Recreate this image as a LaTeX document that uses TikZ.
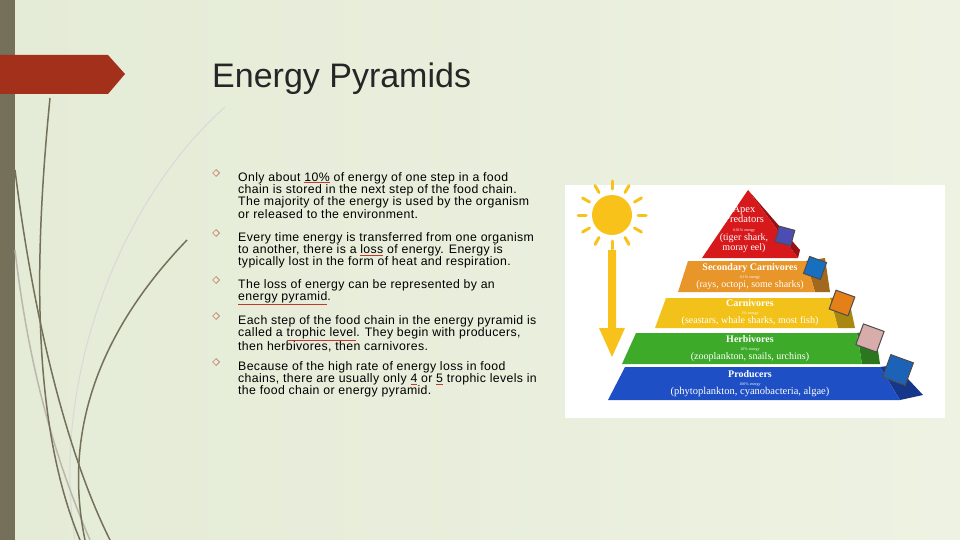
\documentclass[tikz,border=0pt]{standalone}
\usepackage{fontspec}
\setmainfont{Liberation Sans}[LetterSpace=3]
\newfontfamily\pyrfont{Liberation Serif}
\usetikzlibrary{calc}
\definecolor{bgleft}{HTML}{E4EBD6}
\definecolor{bgright}{HTML}{EEF2E2}
\definecolor{barbrown}{HTML}{75705A}
\definecolor{bannerred}{HTML}{A3301A}
\definecolor{ulred}{HTML}{C0392B}
\definecolor{apexred}{HTML}{D7191C}
\definecolor{secorange}{HTML}{E8952A}
\definecolor{carnyellow}{HTML}{F2C21A}
\definecolor{herbgreen}{HTML}{3DAA2A}
\definecolor{prodblue}{HTML}{1F4FC4}
\definecolor{sunyellow}{HTML}{F9C21B}
\newcommand{\redul}[1]{{\color{ulred}\underline{\color{black}#1}}}
\tikzset{
  bullettext/.style={anchor=north west, font=\fontsize{12.3}{12.3}\selectfont, align=left, inner sep=0pt},
  bulletmark/.style={draw=bannerred!80, diamond, inner sep=0pt, minimum size=7pt, line width=0.5pt},
  lvltext/.style={text=white, font=\pyrfont\fontsize{10}{10}\selectfont, align=center},
  photo/.style={draw=black!70, line width=1pt, fill=#1}
}
\usetikzlibrary{shapes.geometric}
\begin{document}
\begin{tikzpicture}[x=1pt,y=-1pt]
  \useasboundingbox (0,0) rectangle (960,540);
  \shade[left color=bgleft, right color=bgright] (0,0) rectangle (960,540);
  % left decoration
  \fill[barbrown] (0,0) rectangle (15,540);
  \draw[black!15, line width=1pt] (225,107) .. controls (120,200) and (50,380) .. (75,540);
  \draw[barbrown!50, line width=1.5pt] (15,250) .. controls (30,380) and (60,470) .. (90,540);
  \draw[barbrown, line width=1.5pt] (50,98) .. controls (35,250) and (30,420) .. (80,540);
  \draw[barbrown, line width=1.5pt] (15,170) .. controls (35,330) and (70,460) .. (110,540);
  \draw[barbrown, line width=1.5pt] (187,240) .. controls (110,320) and (60,420) .. (85,540);
  \fill[bannerred] (0,55) -- (108,55) -- (125,74) -- (108,94) -- (0,94) -- cycle;
  % title
  \node[anchor=base west, font=\addfontfeature{LetterSpace=0}\fontsize{34}{34}\selectfont, text=black!85, inner sep=0pt] (title) at (212,88) {Energy Pyramids};
  % bullets
  \foreach \y in {177,237,284,320,366}
    \node[bulletmark] at (216,\y-4) {};
  \node[bullettext] (b1) at (238,172) {Only about \redul{10\%} of energy of one step in a food\\chain is stored in the next step of the food chain.\\The majority of the energy is used by the organism\\or released to the environment.};
  \node[bullettext] (b2) at (238,232) {Every time energy is transferred from one organism\\to another, there is a \redul{loss} of energy.  Energy is\\typically lost in the form of heat and respiration.};
  \node[bullettext] (b3) at (238,279) {The loss of energy can be represented by an\\\redul{energy pyramid}.};
  \node[bullettext] (b4) at (238,315) {Each step of the food chain in the energy pyramid is\\called a \redul{trophic level}.  They begin with producers,\\then herbivores, then carnivores.};
  \node[bullettext] (b5) at (238,361) {Because of the high rate of energy loss in food\\chains, there are usually only \redul{4} or \redul{5} trophic levels in\\the food chain or energy pyramid.};
  % pyramid panel
  \fill[white] (565,185) rectangle (945,418);
  % sun and arrow
  \fill[sunyellow] (612,215) circle (20);
  \foreach \a in {0,30,...,330}
    \draw[sunyellow, line width=3pt, line cap=round] ($(612,215)+(\a:26)$) -- ($(612,215)+(\a:34)$);
  \fill[sunyellow] (608,250) rectangle (616,328) (599,328) -- (625,328) -- (612,357) -- cycle;
  % levels
  \fill[prodblue!70!black] (880,367) -- (895,365) -- (923,395) -- (900,400) -- cycle;
  \fill[prodblue] (608,400) -- (625,367) -- (880,367) -- (900,400) -- cycle;
  \fill[herbgreen!70!black] (857,333) -- (875,330) -- (880,364) -- (862,364) -- cycle;
  \fill[herbgreen] (622,364) -- (636,333) -- (857,333) -- (862,364) -- cycle;
  \fill[carnyellow!70!black] (830,298) -- (848,295) -- (855,328) -- (838,328) -- cycle;
  \fill[carnyellow] (655,328) -- (666,298) -- (830,298) -- (838,328) -- cycle;
  \fill[secorange!70!black] (806,261) -- (825,258) -- (830,292) -- (815,292) -- cycle;
  \fill[secorange] (678,292) -- (688,261) -- (806,261) -- (815,292) -- cycle;
  \fill[apexred!70!black] (748,190) -- (800,250) -- (798,258) -- cycle;
  \fill[apexred] (748,190) -- (702,258) -- (798,258) -- cycle;
  % photos
  \node[photo=blue!40!gray, minimum size=16pt, rotate=-15] (ph1) at (785,236) {};
  \node[photo=cyan!50!blue, minimum size=18pt, rotate=-20] (ph2) at (815,268) {};
  \node[photo=orange!60!brown, minimum size=20pt, rotate=-20] (ph3) at (842,303) {};
  \node[photo=pink!70!gray, minimum size=22pt, rotate=-20] (ph4) at (870,338) {};
  \node[photo=cyan!40!blue, minimum size=24pt, rotate=-20] (ph5) at (898,370) {};
  % labels
  \node[lvltext] (apex) at (744,229) {\fontsize{10.5}{9.5}\selectfont Apex\\\fontsize{10.5}{9.5}\selectfont Predators\\[-1pt]{\fontsize{4}{4}\selectfont 0.01\% energy}\\[-1pt]\fontsize{10}{9.5}\selectfont(tiger shark,\\\fontsize{10}{9.5}\selectfont moray eel)};
  \node[lvltext] (sec) at (750,277) {\fontsize{10}{10}\selectfont\bfseries Secondary Carnivores\\[-2pt]{\fontsize{4}{4}\selectfont 0.1\% energy}\\[-1pt]\fontsize{10}{10}\selectfont(rays, octopi, some sharks)};
  \node[lvltext] (carn) at (750,313) {\fontsize{10}{10}\selectfont\bfseries Carnivores\\[-2pt]{\fontsize{4}{4}\selectfont 1\% energy}\\[-1pt]\fontsize{10}{10}\selectfont(seastars, whale sharks, most fish)};
  \node[lvltext] (herb) at (750,349) {\fontsize{10}{10}\selectfont\bfseries Herbivores\\[-2pt]{\fontsize{4}{4}\selectfont 10\% energy}\\[-1pt]\fontsize{10}{10}\selectfont(zooplankton, snails, urchins)};
  \node[lvltext] (prod) at (750,384) {\fontsize{10}{10}\selectfont\bfseries Producers\\[-2pt]{\fontsize{4}{4}\selectfont 100\% energy}\\[-1pt]\fontsize{10.5}{10}\selectfont(phytoplankton, cyanobacteria, algae)};
\end{tikzpicture}
\end{document}
